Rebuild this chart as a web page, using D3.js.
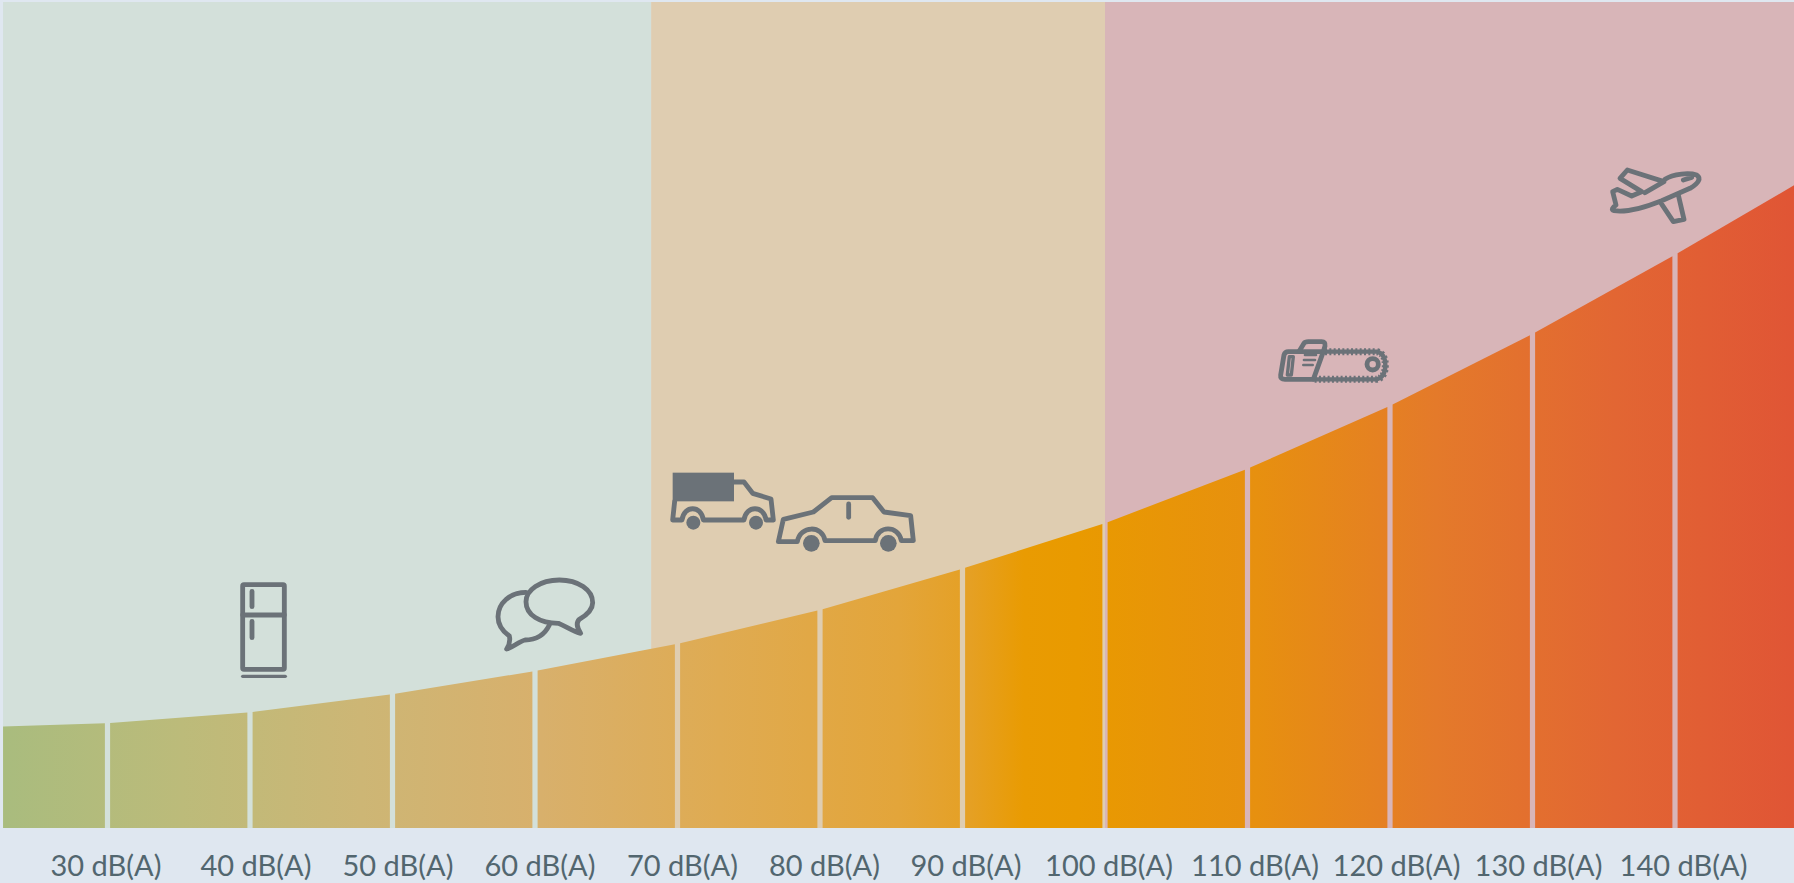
<!DOCTYPE html>
<html><head><meta charset="utf-8">
<script src="https://cdn.jsdelivr.net/npm/d3@7/dist/d3.min.js"></script>
<style>
html,body{margin:0;padding:0;background:#dfe7f0;overflow:hidden}
svg{display:block}
.tick text{font-family:Lato,"Open Sans",sans-serif;font-size:29px;fill:#52666f}
.icon{fill:none;stroke:#6b7278;stroke-width:14.5;stroke-linejoin:round;stroke-linecap:round}
.solid{fill:#6b7278;stroke:none}
</style></head><body>
<script>
// dB(A) tick values and labels
const tickDb = [30,40,50,60,70,80,90,100,110,120,130,140];
const tickLabels = ["30 dB(A)","40 dB(A)","50 dB(A)","60 dB(A)","70 dB(A)","80 dB(A)","90 dB(A)","100 dB(A)","110 dB(A)","120 dB(A)","130 dB(A)","140 dB(A)"];
// band edges on the dB axis, and the curve height at each edge (% of plot height)
const edgeDb = [22.67,30,40,50,60,70,80,90,100,110,120,130,140,148.35];
const edgeLevel = [12.3,12.7,14.0,16.2,19.0,22.3,26.4,31.4,36.9,43.5,51.1,59.8,69.4,77.8];
// background zones
const zoneStart = [22.67,68.15,100];
const zoneEnd = [68.15,100,148.35];
const zoneColor = ["#d3e0da","#dfcdb1","#d8b5b8"];
// colour ramp
const rampAt = [0,.1,.2,.3,.4,.5,.54,.57,.6,.7,.8,.9,1];
const rampColor = ["#a9bc7e","#bcbb7a","#cdb675","#d8b06c","#dfab52","#e3a53a","#e5a024","#e99b02","#e99a00","#e7900f","#e47a2a","#e26633","#e05535"];
// pixel tweak for label placement
const labelNudge = [-2,5.5,5,4.5,4.5,4,3,3.5,7,6,5.5,8];

const W=1794,H=883,gap=5.2;
const x=d3.scaleLinear().domain([30,140]).range([107.5,1675]);
const y=d3.scaleLinear().domain([0,100]).range([828,2]);
const svg=d3.select("body").append("svg").attr("width",W).attr("height",H);

const grad=svg.append("defs").append("linearGradient").attr("id","ramp")
  .attr("gradientUnits","userSpaceOnUse").attr("x1",x(edgeDb[0])).attr("x2",x(edgeDb[edgeDb.length-1])).attr("y1",0).attr("y2",0);
grad.selectAll("stop").data(rampAt).join("stop").attr("offset",d=>d).attr("stop-color",(d,i)=>rampColor[i]);

svg.append("g").selectAll("rect").data(zoneStart).join("rect")
  .attr("x",d=>x(d)).attr("width",(d,i)=>x(zoneEnd[i])-x(d))
  .attr("y",y(100)).attr("height",y(0)-y(100)).attr("fill",(d,i)=>zoneColor[i]);

const area=d3.area().x(d=>d[0]).y0(y(0)).y1(d=>y(d[1]));
const bars=d3.range(edgeDb.length-1).map(i=>{
  const x0=x(edgeDb[i]),x1=x(edgeDb[i+1]);
  const lv=d3.scaleLinear().domain([x0,x1]).range([edgeLevel[i],edgeLevel[i+1]]);
  const a=i===0?x0:x0+gap/2, b=i===edgeDb.length-2?x1:x1-gap/2;
  return [[a,lv(a)],[b,lv(b)]];
});
svg.append("g").selectAll("path").data(bars).join("path").attr("d",area).attr("fill","url(#ramp)");

const axis=svg.append("g").attr("transform",`translate(0,${y(0)})`)
  .call(d3.axisBottom(x).tickValues(tickDb).tickSize(0).tickPadding(27).tickFormat((d,i)=>tickLabels[i]));
axis.select(".domain").remove();
axis.selectAll("text").attr("dx",(d,i)=>labelNudge[i]);

function icon(tx,ty){return svg.append("g").attr("class","icon").attr("transform",`translate(${tx},${ty}) scale(${1/3})`);}

// fridge
let g=icon(220,560);
g.append("rect").attr("x",68).attr("y",74).attr("width",125).attr("height",254).attr("rx",4);
g.append("path").attr("d","M68,165H193M96,94V140M96,184V233");
g.append("path").attr("d","M68,349H196").attr("stroke-width",10);
// speech bubbles
g=icon(220,560);
g.append("path").attr("d","M1018,60C1075,60 1118,90 1118,128C1118,150 1100,165 1078,178C1068,188 1072,205 1082,220C1060,215 1040,200 1015,190C960,190 918,165 918,125C918,90 960,60 1018,60Z");
g.append("path").attr("d","M918,97C870,97 834,130 834,170C834,195 850,215 868,228C872,245 868,255 860,267C880,262 895,245 915,240C950,240 975,222 988,195");
// truck
g=icon(660,460);
g.append("rect").attr("class","solid").attr("x",38).attr("y",38).attr("width",184).attr("height",86);
g.append("path").attr("d","M222,66L252,66L278,100L333,117L340,180L318,180C312,135 258,135 252,180L130,180C124,135 72,135 66,180L38,180L44,124");
g.append("circle").attr("class","solid").attr("cx",100).attr("cy",188).attr("r",21);
g.append("circle").attr("class","solid").attr("cx",288).attr("cy",188).attr("r",21);
// car
g.append("path").attr("d","M355,245L370,178L460,156L515,113L638,113L672,156L752,167L760,242L724,242C716,195 652,195 646,242L495,242C488,195 420,195 412,245Z");
g.append("path").attr("d","M566,132V172");
g.append("circle").attr("class","solid").attr("cx",454).attr("cy",250).attr("r",25);
g.append("circle").attr("class","solid").attr("cx",685).attr("cy",250).attr("r",25);
// chainsaw
g=icon(1260,320);
g.append("path").attr("d","M195,95L350,95Q376,100 376,136Q376,172 350,178L160,178").attr("stroke-width",21).attr("stroke-dasharray","6 7").attr("stroke-linecap","butt");
g.append("path").attr("d","M195,95L350,95Q376,100 376,136Q376,172 350,178L160,178").attr("stroke-width",13);
g.append("path").attr("d","M85,95L190,95L160,178L75,178Q60,178 62,165L72,105Q75,95 85,95Z");
g.append("path").attr("d","M118,93L132,70Q135,65 145,65L185,65Q197,65 195,78L190,95");
g.append("path").attr("d","M88,110L100,110L94,165L82,165Z").attr("stroke-width",10);
g.append("path").attr("d","M135,105H168M132,120H165M130,135H158").attr("stroke-width",8);
g.append("circle").attr("cx",338).attr("cy",133).attr("r",17);
// plane
g=icon(1590,150);
g.append("path").attr("d","M225,88C250,70 300,68 320,75C335,85 325,100 300,115L215,152C170,170 110,188 72,182C62,180 68,172 78,165L68,125L82,118L125,138L155,125L90,85L112,60L222,95L165,128M210,155L250,215L282,208L265,135M280,90L305,82");
</script>
</body></html>
